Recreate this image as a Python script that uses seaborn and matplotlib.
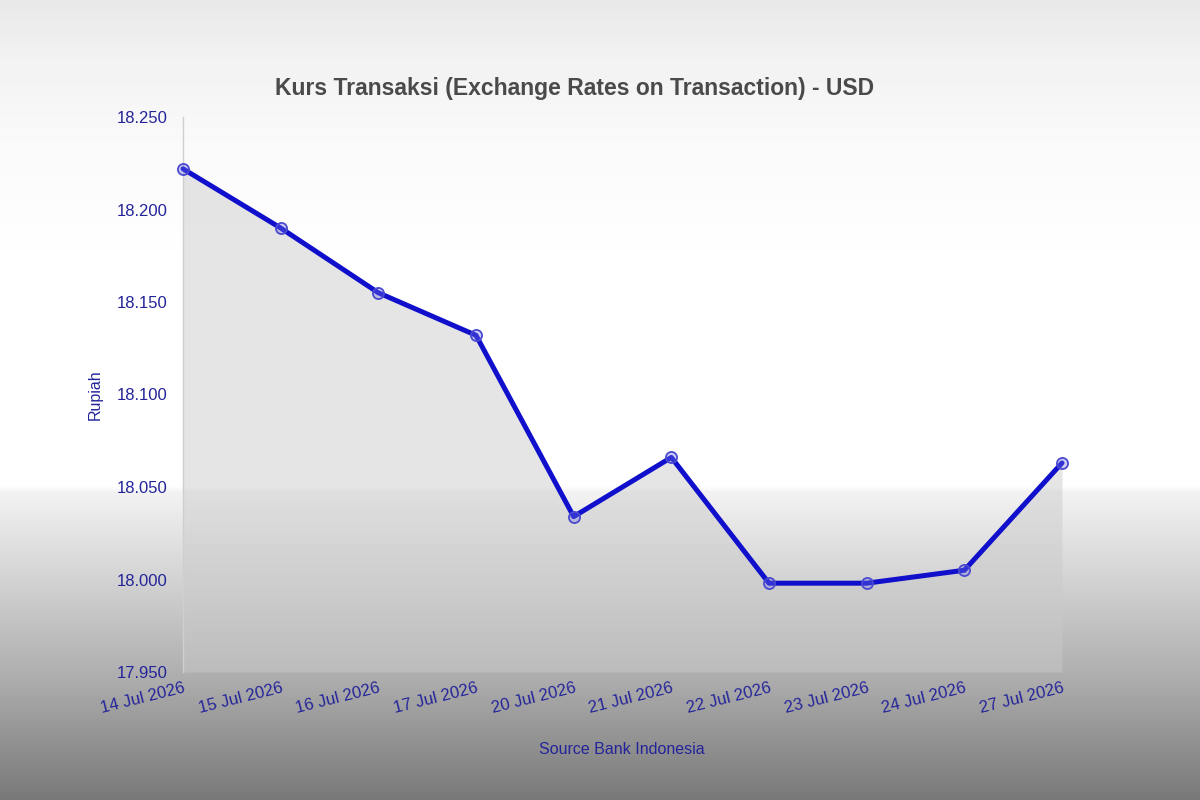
import matplotlib
matplotlib.use("Agg")
import matplotlib.pyplot as plt
from matplotlib.ticker import FuncFormatter
import numpy as np
import pandas as pd
import seaborn as sns

# data (Rupiah per USD)
dates = ["14 Jul 2026", "15 Jul 2026", "16 Jul 2026", "17 Jul 2026", "20 Jul 2026",
         "21 Jul 2026", "22 Jul 2026", "23 Jul 2026", "24 Jul 2026", "27 Jul 2026"]
rates = [18222, 18190, 18155, 18132, 18034, 18066, 17998, 17998, 18005, 18063]
y_ticks = [17950, 18000, 18050, 18100, 18150, 18200, 18250]

title = "Kurs Transaksi (Exchange Rates on Transaction) - USD"
y_label = "Rupiah"
source = "Source Bank Indonesia"

df = pd.DataFrame({"date": dates, "rate": rates})

sns.set_style("white")
plt.rcParams["font.family"] = ["Liberation Sans", "DejaVu Sans"]

blue = "#1010cc"
label_blue = "#24249a"

fig = plt.figure(figsize=(12, 8), dpi=100)

# page background: light at top, white middle, grey towards the bottom
bg = fig.add_axes([0, 0, 1, 1], zorder=-1)
rows = np.arange(800)
shade = np.interp(rows, [0, 60, 150, 250, 485, 492, 580, 680, 800],
                  [232, 242, 250, 254, 255, 242, 210, 172, 120])
bg.imshow(np.tile(shade[:, None], (1, 4)), aspect="auto", cmap="gray", vmin=0, vmax=255,
          extent=[0, 1, 0, 1], interpolation="nearest")
bg.axis("off")

ax = fig.add_axes([183 / 1200, 1 - 672 / 800, (1062 - 183) / 1200, (672 - 117) / 800])
ax.set_facecolor("none")

ax.fill_between(df["date"], df["rate"], y_ticks[0], color="#cacaca", alpha=0.48,
                linewidth=0, zorder=1)
sns.lineplot(data=df, x="date", y="rate", sort=False, ax=ax, color=blue,
             linewidth=3.6, marker="o", markersize=8,
             markerfacecolor=(0.45, 0.45, 0.9, 0.35), markeredgecolor="#4a4ad0",
             markeredgewidth=1.3, clip_on=False, zorder=3)

ax.set_xlim(0, len(dates) - 1)
ax.set_ylim(y_ticks[0], y_ticks[-1])
ax.set_yticks(y_ticks)
ax.yaxis.set_major_formatter(FuncFormatter(lambda v, p: f"{v:,.0f}".replace(",", ".")))

for s in ["top", "right", "bottom"]:
    ax.spines[s].set_visible(False)
ax.spines["left"].set_color("#cfcfcf")
ax.spines["left"].set_linewidth(1)

ax.tick_params(axis="y", length=0, pad=11, labelsize=12, labelcolor=label_blue)
ax.tick_params(axis="x", length=0, pad=6, labelsize=12, labelcolor=label_blue)
plt.setp(ax.get_xticklabels(), rotation=14, ha="right", va="top", rotation_mode="anchor")
ax.set_xlabel("")
ax.set_ylabel("")

fig.text(575 / 1200, 1 - 88 / 800, title, ha="center", va="center",
         fontsize=16.5, fontweight="bold", color="#4a4a4a")
fig.text(95 / 1200, 1 - 395 / 800, y_label, rotation=90, ha="center", va="center",
         fontsize=11.5, color=label_blue)
fig.text(622 / 1200, 1 - 750 / 800, source, ha="center", va="center",
         fontsize=11.5, color=label_blue)

plt.savefig("out.png", dpi=100)
plt.close()
